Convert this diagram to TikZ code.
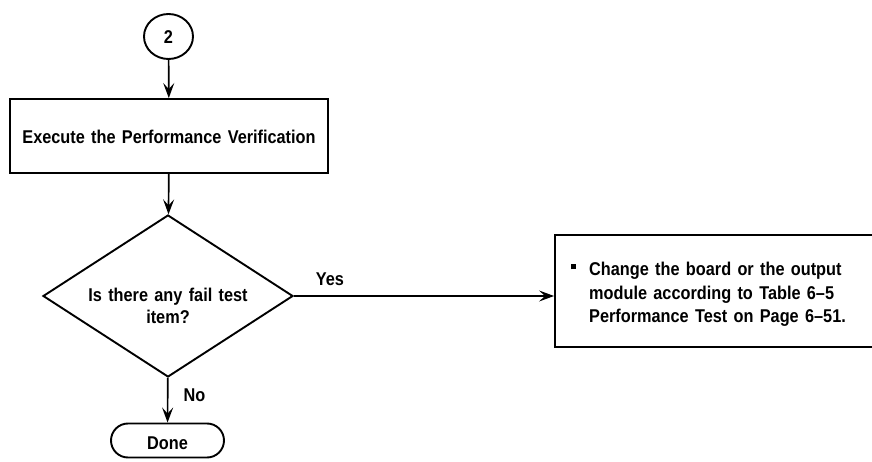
\documentclass[tikz,border=0pt]{standalone}
\usepackage{fontspec}
\setmainfont{Liberation Sans}[FakeStretch=0.88,WordSpace=1.4]
\usetikzlibrary{shapes.geometric,shapes.misc,arrows.meta}
\begin{document}
\begin{tikzpicture}[x=1pt,y=-1pt,
  font=\bfseries\fontsize{18.5}{22}\selectfont,
  shapeline/.style={draw,line width=1.9pt},
  flow/.style={line width=1.7pt,-{Stealth[length=15pt,width=11pt,inset=6pt]}},
  procbox/.style={shapeline,rectangle,inner sep=0pt},
  lbl/.style={inner sep=0pt}]
\useasboundingbox (0,0) rectangle (872,462);
\node[shapeline,ellipse,minimum width=49pt,minimum height=45pt,inner sep=0pt] (c2) at (168.5,36.5) {};
\node[lbl] (c2text) at (168.5,37) {2};
\node[procbox,minimum width=318pt,minimum height=74pt] (exec) at (169,136) {};
\node[lbl] (exectext) at (169,137) {Execute the Performance Verification};
\node[shapeline,diamond,minimum width=250pt,minimum height=162pt,inner sep=0pt] (dec) at (168,296) {};
\node[lbl,align=center] (dectext) at (168,306) {Is there any fail test\\item?};
\node[shapeline,rounded rectangle,minimum width=113pt,minimum height=34pt,inner sep=0pt] (done) at (167.5,440.5) {};
\node[lbl] (donetext) at (167.5,443) {Done};
\node[procbox,minimum width=340pt,minimum height=112pt] (chg) at (725,291) {};
\node[lbl,anchor=base west] (chgtext) at (571,276)
  {\begin{tabular}[t]{@{}p{18pt}@{}l@{}}\raisebox{6.5pt}{\rule{5pt}{5pt}} & Change the board or the output\\[1.5pt]
   & module according to Table 6–5\\[1.5pt]
   & Performance Test on Page 6–51.\end{tabular}};
\node[lbl] (yes) at (330,279) {Yes};
\node[lbl] (no) at (194.5,395.5) {No};
\draw[flow] (c2) -- (exec);
\draw[flow] (exec) -- (dec);
\draw[flow] (dec.east) -- (dec.east -| chg.west);
\draw[flow] (dec) -- (done);
\end{tikzpicture}
\end{document}
